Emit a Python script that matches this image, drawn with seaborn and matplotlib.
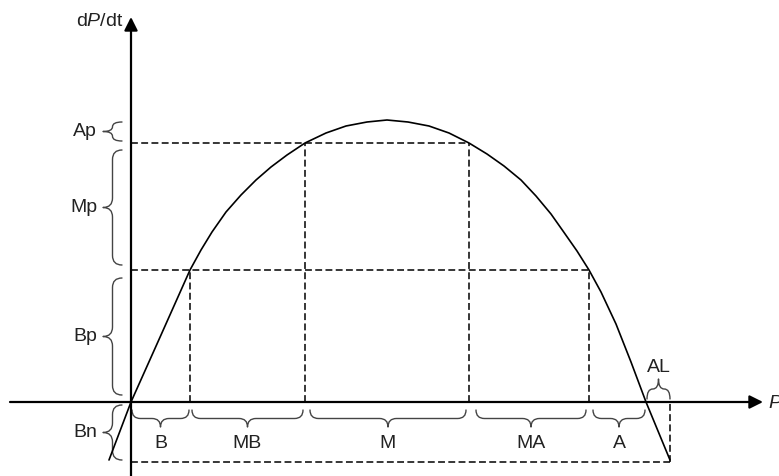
import matplotlib
matplotlib.use("Agg")
import matplotlib.pyplot as plt
import pandas as pd
import seaborn as sns
from matplotlib.patches import PathPatch
from matplotlib.path import Path

# growth curve dP/dt against P (origin at the axes crossing)
curve_p = [-22, 0, 30, 59, 70, 81, 95, 110, 125, 140, 156, 174, 195, 215, 236, 256,
           277, 298, 318, 338, 356, 373, 390, 405, 420, 432, 446, 458, 470, 485, 500,
           515, 539]
curve_v = [-58, 0, 67, 132, 152, 170, 190, 207, 222, 235, 247, 259, 269, 276, 280, 282,
           280, 276, 269, 259, 248, 236, 222, 206, 188, 171, 151, 132, 110, 78, 40,
           0, -58]

# dashed guide lines
level_p = [458, 338]          # horizontal guides run from the dP/dt axis to these P
level_v = [132, 259]
cut_p = [59, 174, 338, 458]   # vertical guides from the P axis up to the curve
cut_top = [132, 259, 259, 132]
floor_v = -60
end_p = 539

# braces under the P axis
bottom_labels = ["B", "MB", "M", "MA", "A"]
bottom_start = [1, 61, 179, 345, 462]
bottom_end = [58, 172, 335, 455, 514]

# braces left of the dP/dt axis
left_labels = ["Ap", "Mp", "Bp", "Bn"]
left_low = [261, 137, 7, -58]
left_high = [280, 252, 124, -3]

# the small brace above the axis
al_label = "AL"
al_start, al_end = 516, 539

BRACE_COLOR = "#444444"
TEXT_COLOR = "#222222"


def brace(ax, a, b, base, depth, vertical=False):
    """Curly brace spanning a..b, ends at `base`, tip at base + depth."""
    length = b - a
    h = depth / 2
    r = min(abs(h), length / 4)
    m = a + length / 2
    pts = [(a, base), (a, base + h), (a + r, base + h),
           (m - r, base + h),
           (m, base + h), (m, base + depth),
           (m, base + h), (m + r, base + h),
           (b - r, base + h),
           (b, base + h), (b, base)]
    codes = [Path.MOVETO, Path.CURVE3, Path.CURVE3, Path.LINETO,
             Path.CURVE3, Path.CURVE3, Path.CURVE3, Path.CURVE3,
             Path.LINETO, Path.CURVE3, Path.CURVE3]
    if vertical:
        pts = [(v, u) for u, v in pts]
    ax.add_patch(PathPatch(Path(pts, codes), fill=False, edgecolor=BRACE_COLOR,
                           lw=1.0, capstyle="round", joinstyle="round"))


sns.set_theme(style="white")
plt.rcParams["font.family"] = ["Liberation Sans", "DejaVu Sans"]
plt.rcParams["mathtext.fontset"] = "custom"
plt.rcParams["mathtext.rm"] = "Liberation Sans"
plt.rcParams["mathtext.it"] = "Liberation Sans:italic"

fig = plt.figure(figsize=(7.79, 4.76), dpi=100)
ax = fig.add_axes([0, 0, 1, 1])
ax.set_xlim(-131, 648)
ax.set_ylim(-74, 402)
ax.axis("off")

dash = (0, (4.5, 2.2))
ax.hlines(level_v, 0, level_p, colors="black", linestyles=dash, lw=1.1)
ax.vlines(cut_p, 0, cut_top, colors="black", linestyles=dash, lw=1.1)
ax.hlines(floor_v, 0, end_p, colors="black", linestyles=dash, lw=1.1)
ax.vlines(end_p, floor_v, 0, colors="black", linestyles=dash, lw=1.1)

df = pd.DataFrame({"P": curve_p, "dPdt": curve_v})
sns.lineplot(data=df, x="P", y="dPdt", sort=False, estimator=None,
             color="black", linewidth=1.2, ax=ax)

# axes with arrow heads
arrow = dict(arrowstyle="-|>", color="black", lw=1.6, mutation_scale=20,
             shrinkA=0, shrinkB=0)
ax.annotate("", xy=(632, 0), xytext=(-121, 0), arrowprops=arrow)
ax.annotate("", xy=(0, 385), xytext=(0, -74), arrowprops=arrow)
ax.text(-8, 380, "d$P$/dt", ha="right", va="center", fontsize=14, color=TEXT_COLOR)
ax.text(637, -2, "P", ha="left", va="center", fontsize=14, style="italic",
        color=TEXT_COLOR)

for lab, a, b in zip(bottom_labels, bottom_start, bottom_end):
    brace(ax, a, b, -8, -17)
    ax.text((a + b) / 2, -42, lab, ha="center", va="center", fontsize=14,
            color=TEXT_COLOR)

for lab, lo, hi in zip(left_labels, left_low, left_high):
    brace(ax, lo, hi, -9, -19, vertical=True)
    ax.text(-34, (lo + hi) / 2, lab, ha="right", va="center", fontsize=14,
            color=TEXT_COLOR)

brace(ax, al_start, al_end, 3, 20)
ax.text((al_start + al_end) / 2, 35, al_label, ha="center", va="center",
        fontsize=14, color=TEXT_COLOR)

fig.savefig("out.png", dpi=100)
